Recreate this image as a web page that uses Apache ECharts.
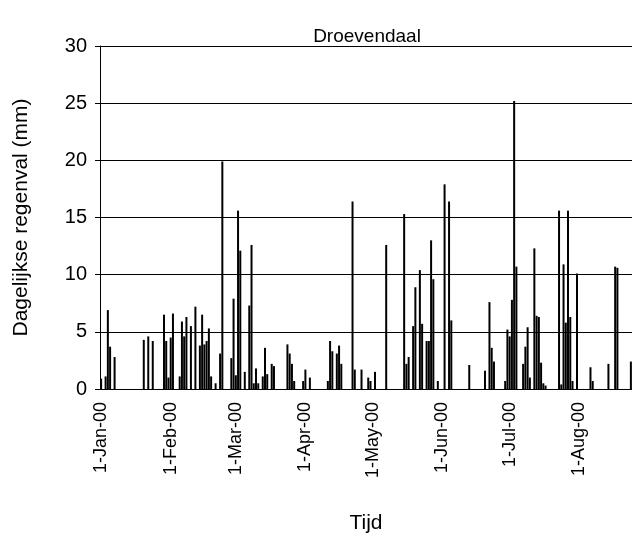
<!DOCTYPE html>
<html>
<head>
<meta charset="utf-8">
<script src="https://cdn.jsdelivr.net/npm/echarts@6/dist/echarts.min.js"></script>
<style>
  html, body { margin: 0; padding: 0; background: #fff; }
  #chart { width: 632px; height: 539px; }
</style>
</head>
<body>
<div id="chart"></div>
<script>
// Daily rainfall at Droevendaal, 2000 (mm per day; dry days omitted)
const rainDates = [
  '2000-01-01','2000-01-03','2000-01-04','2000-01-05','2000-01-07',
  '2000-01-20','2000-01-22','2000-01-24','2000-01-29','2000-01-30','2000-01-31',
  '2000-02-01','2000-02-02','2000-02-05','2000-02-06','2000-02-07','2000-02-08',
  '2000-02-10','2000-02-12','2000-02-14','2000-02-15','2000-02-16','2000-02-17',
  '2000-02-18','2000-02-19','2000-02-21','2000-02-23','2000-02-24','2000-02-28','2000-02-29',
  '2000-03-01','2000-03-02','2000-03-03','2000-03-05','2000-03-07','2000-03-08',
  '2000-03-09','2000-03-10','2000-03-11','2000-03-13','2000-03-14','2000-03-15',
  '2000-03-17','2000-03-18','2000-03-24','2000-03-25','2000-03-26','2000-03-27','2000-03-31',
  '2000-04-01','2000-04-03','2000-04-11','2000-04-12','2000-04-13','2000-04-15',
  '2000-04-16','2000-04-17','2000-04-22','2000-04-23','2000-04-26','2000-04-29','2000-04-30',
  '2000-05-02','2000-05-07','2000-05-15','2000-05-16','2000-05-17','2000-05-19',
  '2000-05-20','2000-05-22','2000-05-23','2000-05-25','2000-05-26','2000-05-27',
  '2000-05-28','2000-05-30',
  '2000-06-02','2000-06-04','2000-06-05','2000-06-13','2000-06-20','2000-06-22',
  '2000-06-23','2000-06-24','2000-06-29','2000-06-30',
  '2000-07-01','2000-07-02','2000-07-03','2000-07-04','2000-07-07','2000-07-08',
  '2000-07-09','2000-07-10','2000-07-12','2000-07-13','2000-07-14','2000-07-15',
  '2000-07-16','2000-07-17','2000-07-23','2000-07-24','2000-07-25','2000-07-26',
  '2000-07-27','2000-07-28','2000-07-29','2000-07-31',
  '2000-08-06','2000-08-07','2000-08-14','2000-08-17','2000-08-18','2000-08-24'
];
const rainMm = [
  0.9, 1.1, 6.9, 3.7, 2.8,
  4.3, 4.6, 4.2, 6.5, 4.2, 1.0,
  4.5, 6.6, 1.1, 5.9, 4.6, 6.3,
  5.5, 7.2, 3.8, 6.5, 3.9, 4.2,
  5.3, 1.1, 0.5, 3.1, 19.9, 2.7, 7.9,
  1.2, 15.6, 12.1, 1.5, 7.3, 12.6,
  0.5, 1.8, 0.5, 1.1, 3.6, 1.3,
  2.2, 2.0, 3.9, 3.1, 2.2, 0.7, 0.7,
  1.7, 1.0, 0.7, 4.2, 3.3, 3.1,
  3.8, 2.2, 16.4, 1.7, 1.7, 1.0, 0.7,
  1.5, 12.6, 15.3, 2.2, 2.8, 5.5,
  8.9, 10.4, 5.7, 4.2, 4.2, 13.0,
  9.6, 0.7,
  17.9, 16.4, 6.0, 2.1, 1.6, 7.6,
  3.6, 2.4, 0.7, 5.2,
  4.6, 7.8, 25.2, 10.7, 2.2, 3.7,
  5.4, 1.0, 12.3, 6.4, 6.3, 2.3,
  0.5, 0.3, 15.6, 0.4, 10.9, 5.8,
  15.6, 6.3, 0.7, 10.1,
  1.9, 0.7, 2.2, 10.7, 10.6, 2.4
];

// Axis range: one category per calendar day
const firstDay = '2000-01-01';
const lastDay = '2000-08-24';
const yTicks = [0, 5, 10, 15, 20, 25, 30];
const monthNames = ['Jan','Feb','Mar','Apr','May','Jun','Jul','Aug','Sep','Oct','Nov','Dec'];

const days = [];
for (let t = Date.parse(firstDay + 'T00:00:00Z'); t <= Date.parse(lastDay + 'T00:00:00Z'); t += 86400000) {
  days.push(new Date(t).toISOString().slice(0, 10));
}
const rainByDay = {};
rainDates.forEach((d, i) => { rainByDay[d] = rainMm[i]; });
const values = days.map(d => (d in rainByDay ? rainByDay[d] : null));

const isMonthStart = (idx) => days[idx].slice(8) === '01';
const fmtDate = (v) => {
  const [y, m, d] = v.split('-');
  return parseInt(d, 10) + '-' + monthNames[parseInt(m, 10) - 1] + '-' + y.slice(2);
};

const font = 'Liberation Sans, Arial, sans-serif';
const chart = echarts.init(document.getElementById('chart'), null, { renderer: 'canvas' });
chart.setOption({
  animation: false,
  backgroundColor: '#fff',
  title: {
    text: 'Droevendaal',
    left: 362,
    top: 22,
    textAlign: 'center',
    textStyle: { fontFamily: font, fontSize: 19, fontWeight: 'normal', color: '#000' }
  },
  grid: { left: 100, right: 0, top: 46, bottom: 150, containLabel: false, outerBoundsMode: 'none' },
  xAxis: {
    type: 'category',
    data: days,
    boundaryGap: true,
    name: 'Tijd',
    nameLocation: 'middle',
    nameGap: 124,
    nameTextStyle: { fontFamily: font, fontSize: 21, color: '#000' },
    axisLine: { lineStyle: { color: '#000', width: 1 } },
    axisTick: { show: false },
    axisLabel: {
      interval: isMonthStart,
      rotate: 90,
      margin: 13,
      formatter: fmtDate,
      fontFamily: font,
      fontSize: 18,
      color: '#000'
    },
    splitLine: { show: false }
  },
  yAxis: {
    type: 'value',
    min: yTicks[0],
    max: yTicks[yTicks.length - 1],
    interval: 5,
    name: 'Dagelijkse regenval (mm)',
    nameLocation: 'middle',
    nameGap: 68,
    nameTextStyle: { fontFamily: font, fontSize: 21, color: '#000' },
    axisLine: { show: true, lineStyle: { color: '#000', width: 1 } },
    axisTick: { show: true, inside: false, length: 5, lineStyle: { color: '#000' } },
    axisLabel: { margin: 13, fontFamily: font, fontSize: 20, color: '#000' },
    splitLine: { show: true, lineStyle: { color: '#000', width: 1 } }
  },
  series: [{
    type: 'bar',
    data: values,
    barWidth: 2,
    itemStyle: { color: '#000' }
  }]
});
</script>
</body>
</html>
